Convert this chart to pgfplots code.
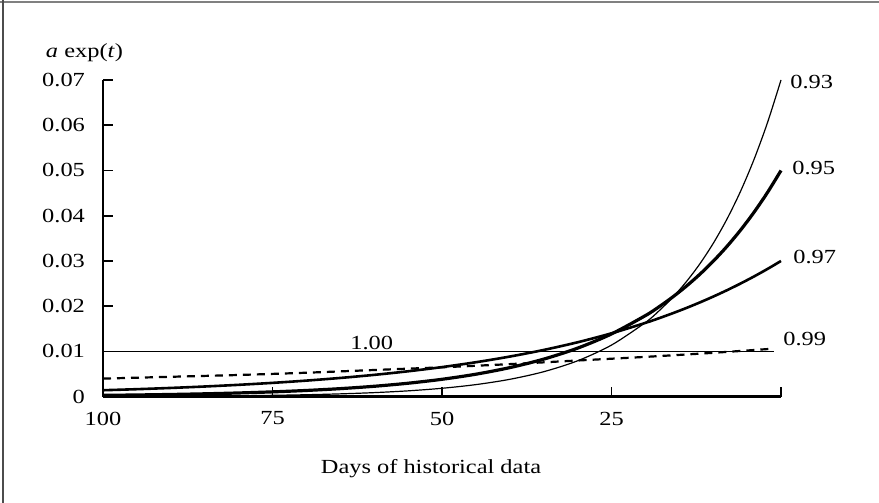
\documentclass[border=0pt]{standalone}
\usepackage{pgfplots}
\pgfplotsset{compat=1.18}
\usepackage{fontspec}
\setmainfont{Liberation Serif}[FakeStretch=1.22]
\begin{document}
\fontsize{10pt}{12pt}\selectfont
\begin{tikzpicture}
\path[use as bounding box] (0,0) rectangle (439.5pt,251.5pt);
\draw[line width=1pt, gray] (0,250.6pt) -- (439.5pt,250.6pt);
\draw[line width=0.8pt, black!70] (1.6pt,0) -- (1.6pt,251.5pt);
\begin{axis}[
  at={(51.5pt,53.15pt)}, anchor=south west,
  scale only axis, width=339pt, height=158.35pt,
  xmin=-100, xmax=0, ymin=0, ymax=0.07,
  axis x line=bottom, axis y line=left,
  axis line style={-, line width=1.2pt},
  tick align=inside, major tick length=5pt,
  tick style={black, line width=0.8pt},
  xtick={-100,-75,-50,-25,0}, xticklabels={100,75,50,25,{}},
  ytick={0,0.01,0.02,0.03,0.04,0.05,0.06,0.07},
  yticklabels={0,0.01,0.02,0.03,0.04,0.05,0.06,0.07},
  scaled y ticks=false,
  /pgf/number format/assume math mode=true,
  yticklabel style={xshift=-5.5pt},
  xticklabel style={yshift=-4pt},
  clip=false,
]
% lambda = 1.00
\addplot[black, line width=0.6pt] coordinates {(-100,0.01) (-1,0.01)};
% lambda = 0.99 (dashed)
\addplot[black, line width=1.1pt, dash pattern=on 4pt off 3pt, smooth] coordinates {
(-100,0.0040) (-90,0.0044) (-80,0.0048) (-70,0.0053) (-60,0.0059) (-50,0.0065)
(-40,0.0072) (-30,0.0080) (-20,0.0088) (-10,0.0097) (-1.3,0.0106)};
% lambda = 0.97
\addplot[black, line width=1.3pt, smooth] coordinates {
(-100,0.001427) (-95,0.001661) (-90,0.001935) (-85,0.002253) (-80,0.002624) (-75,0.003055)
(-70,0.003557) (-65,0.004143) (-60,0.004824) (-55,0.005618) (-50,0.006542) (-45,0.007618)
(-40,0.008871) (-35,0.010331) (-30,0.012030) (-25,0.014009) (-20,0.016314) (-18,0.017339)
(-16,0.018428) (-14,0.019585) (-12,0.020815) (-10,0.022123) (-8,0.023512) (-6,0.024989)
(-4,0.026559) (-2,0.028227) (0,0.03)};
% lambda = 0.95
\addplot[black, line width=1.6pt, smooth] coordinates {
(-100,0.000296) (-95,0.000383) (-90,0.000494) (-85,0.000639) (-80,0.000826) (-75,0.001067)
(-70,0.001379) (-65,0.001782) (-60,0.002304) (-55,0.002977) (-50,0.003847) (-45,0.004972)
(-40,0.006426) (-35,0.008304) (-30,0.010732) (-25,0.013870) (-20,0.017924) (-18,0.019861)
(-16,0.022006) (-14,0.024384) (-12,0.027018) (-10,0.029937) (-8,0.033171) (-6,0.036755)
(-4,0.040726) (-2,0.045125) (0,0.05)};
% lambda = 0.93
\addplot[black, line width=0.6pt, smooth] coordinates {
(-100,0.000049) (-95,0.000071) (-90,0.000102) (-85,0.000147) (-80,0.000211) (-75,0.000303)
(-70,0.000435) (-65,0.000626) (-60,0.000900) (-55,0.001293) (-50,0.001859) (-45,0.002672)
(-40,0.003841) (-35,0.005521) (-30,0.007936) (-25,0.011408) (-20,0.016397) (-18,0.018958)
(-16,0.021919) (-14,0.025344) (-12,0.029302) (-10,0.033879) (-8,0.039172) (-6,0.045289)
(-4,0.052364) (-2,0.060543) (0,0.07)};
\end{axis}
\node[anchor=base, inner sep=0] at (215.5pt,14.5pt) {Days of historical data};
\node[anchor=base, inner sep=0] at (42.25pt,222.75pt) {\textit{a} exp(\textit{t})};
\node[anchor=west, inner sep=0] at (395pt,210.5pt) {0.93};
\node[anchor=west, inner sep=0] at (396pt,167.5pt) {0.95};
\node[anchor=west, inner sep=0] at (396.5pt,123pt) {0.97};
\node[anchor=west, inner sep=0] at (391.5pt,82pt) {0.99};
\node[anchor=west, inner sep=0] at (175pt,80pt) {1.00};
\end{tikzpicture}
\end{document}
